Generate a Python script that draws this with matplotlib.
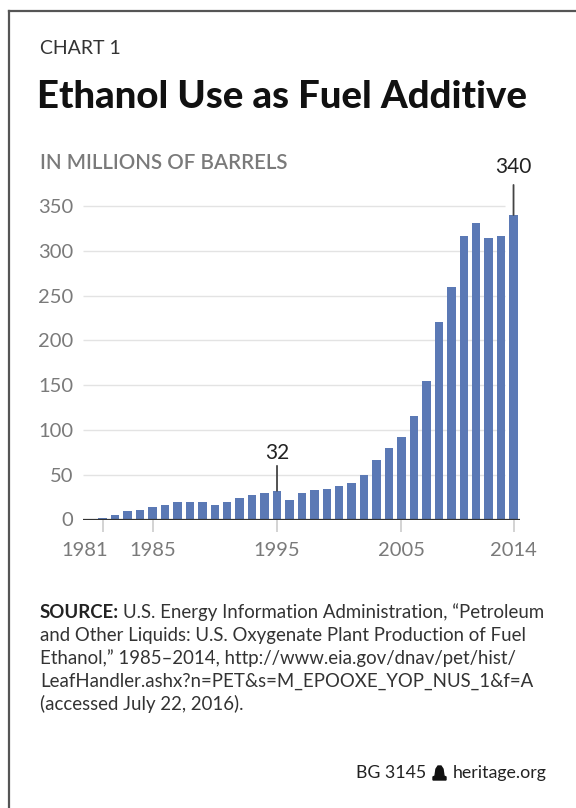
import matplotlib
matplotlib.use("Agg")
import matplotlib.pyplot as plt
from matplotlib.patches import Polygon
from matplotlib.lines import Line2D
from matplotlib.transforms import offset_copy, ScaledTranslation

plt.rcParams["font.family"] = ["Lato", "DejaVu Sans"]

# --- data (millions of barrels) ---
years = list(range(1981, 2015))
barrels = [2, 5, 9, 11, 13.5, 16, 19, 19, 19, 16.5, 19.5, 24.5, 27, 30, 32,
           22, 30, 33, 34, 37, 41, 50, 66, 80, 92, 116, 155, 221, 260,
           316, 331, 314, 316, 340]
xtick_years = [1981, 1985, 1995, 2005, 2014]
yticks = [0, 50, 100, 150, 200, 250, 300, 350]
callouts = [1995, 2014]

BAR = "#5b79b5"
GRAY = "#7a7a7a"
W, H = 576, 808

fig = plt.figure(figsize=(W / 100, H / 100), dpi=100)

def fx(px): return px / W
def fy(py): return 1 - py / H

# frame (top + left rule)
fig.add_artist(Line2D([fx(9), 1], [fy(11), fy(11)], color="#555555", lw=1.6))
fig.add_artist(Line2D([fx(9), fx(9)], [fy(11), 0], color="#555555", lw=1.6))

fig.text(fx(40), fy(49), "CHART 1", fontsize=14, color="#333333",
         va="center")
fig.text(fx(37), fy(97), "Ethanol Use as Fuel Additive", fontsize=27.5,
         fontweight="black", color="#111111", va="center")
fig.text(fx(40), fy(163), "IN MILLIONS OF BARRELS", fontsize=14.8,
         fontweight="semibold", color=GRAY, va="center")

# --- chart ---
px_per_unit = 0.8957
base_px = 519.5
ytop = 400
ax_left, ax_right = 83, 520
ax = fig.add_axes([fx(ax_left), fy(base_px), (ax_right - ax_left) / W,
                   ytop * px_per_unit / H])
ax.bar(years, barrels, width=0.68, color=BAR, zorder=2)
ax.set_xlim(1979.415, 2014.52)
ax.set_ylim(0, ytop)

ax.hlines(yticks[1:], 1979.415, 2013.3, color="#e3e3e3", lw=1, zorder=1)
ax.axhline(0, color="#333333", lw=1.6, zorder=3)

ax.set_yticks(yticks)
ax.set_yticklabels([str(v) for v in yticks])
ax.set_xticks(xtick_years)
ax.set_xticklabels([str(y) for y in xtick_years])
ax.tick_params(axis="y", length=0, pad=7, labelsize=14.5, labelcolor=GRAY)
ax.tick_params(axis="x", length=8.5, width=1.2, color="#cccccc", pad=8,
               labelsize=14.5, labelcolor=GRAY)
first = ax.get_xticklabels()[0]
first.set_transform(first.get_transform() +
                    ScaledTranslation(-18 / 100, 0, fig.dpi_scale_trans))
for s in ax.spines.values():
    s.set_visible(False)

# callouts: line up from bar top, value label above
for yr, line_px, text_px in zip(callouts, [25, 30], [38, 48]):
    v = barrels[years.index(yr)]
    ax.annotate("", xy=(yr, v), xytext=(0, line_px * 0.72),
                textcoords="offset points",
                arrowprops=dict(arrowstyle="-", color="#444444", lw=1.3,
                                shrinkA=0, shrinkB=0))
    ax.text(yr, v, f"{v:g}", fontsize=15, color="#222222", ha="center",
            va="center",
            transform=offset_copy(ax.transData, fig, y=text_px, units="dots"))

# --- source note ---
src_lines = [
    "U.S. Energy Information Administration, \u201cPetroleum",
    "and Other Liquids: U.S. Oxygenate Plant Production of Fuel",
    "Ethanol,\u201d 1985\u20132014, http://www.eia.gov/dnav/pet/hist/",
    "LeafHandler.ashx?n=PET&s=M_EPOOXE_YOP_NUS_1&f=A",
    "(accessed July 22, 2016).",
]
t = fig.text(fx(40), fy(612), "SOURCE:", fontsize=13.4, fontweight="bold",
             color="#222222", va="center")
fig.canvas.draw()
bb = t.get_window_extent()
fig.text(fx(bb.x1 + 4), fy(612), src_lines[0], fontsize=13.4, color="#333333",
         va="center")
for i, line in enumerate(src_lines[1:], start=1):
    fig.text(fx(40), fy(612 + 23 * i), line, fontsize=13.4, color="#333333",
             va="center")

# footer
fig.text(fx(547), fy(773), "heritage.org", fontsize=12.8, color="#222222",
         ha="right", va="center")
fig.text(fx(426), fy(773), "BG 3145", fontsize=12.8, color="#222222",
         ha="right", va="center")
bell = [(433, 780), (446, 780), (446, 777), (444, 776), (443, 769), (441, 766),
        (438, 766), (436, 769), (435, 776), (433, 777)]
fig.add_artist(Polygon([(fx(x), fy(y)) for x, y in bell], closed=True,
                       color="#111111", transform=fig.transFigure))

fig.savefig("out.png", dpi=100)
